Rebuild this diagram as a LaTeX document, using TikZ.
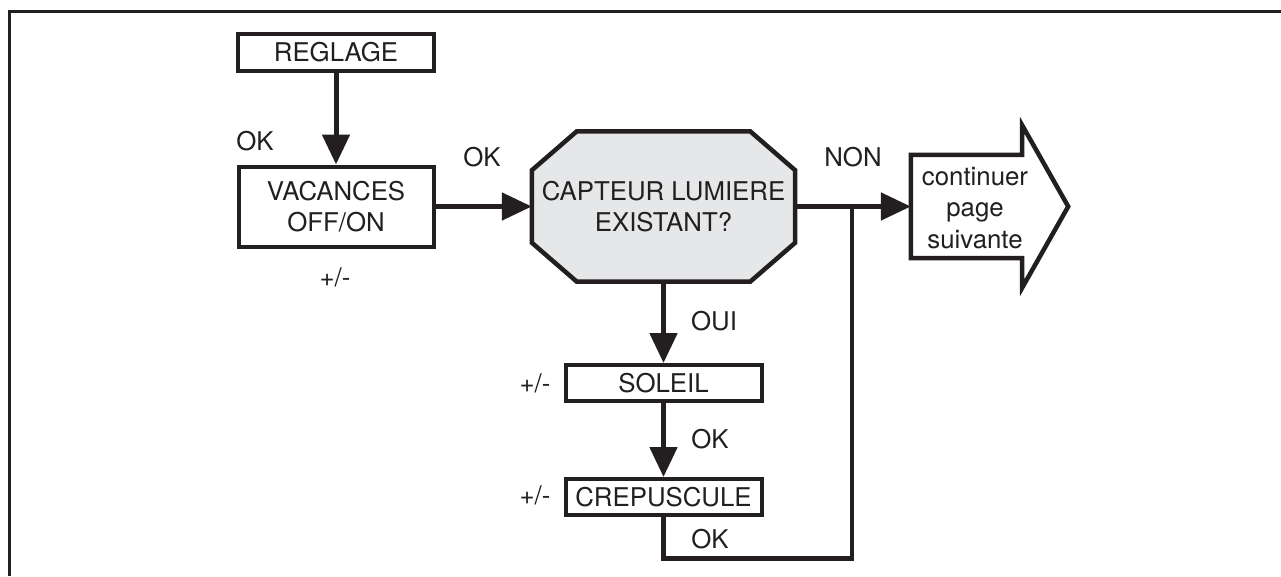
\documentclass[tikz,border=0pt]{standalone}
\usepackage{fontspec}
\setmainfont{TeX Gyre Heros}
\usetikzlibrary{arrows.meta,backgrounds,calc}
\definecolor{ink}{HTML}{231F20}
\definecolor{octfill}{HTML}{E6E7E8}
\begin{document}
\begin{tikzpicture}[x=1pt,y=-1pt,
  every node/.style={font=\fontsize{25.8}{31.5}\selectfont, text=ink},
  box/.style={draw=ink, line width=4pt, minimum width=196pt, inner sep=0pt, align=center},
  lbl/.style={inner sep=0pt},
  conn/.style={draw=ink, line width=5pt, -{Triangle[length=30pt,width=27pt]}},
  plain/.style={draw=ink, line width=4.5pt},
  shapeline/.style={draw=ink, line width=4.5pt, line join=miter},
]
\useasboundingbox (0,0) rectangle (1281,576);
\draw[ink, line width=3pt] (9.5,576) -- (9.5,11.5) -- (1281,11.5);

\node[box, minimum height=37pt] (reg) at (336,52.5) {REGLAGE};
\node[box, minimum width=195pt, minimum height=80pt] (vac) at (336,206.5) {VACANCES\\OFF/ON};
\node[minimum width=263pt, minimum height=150pt, inner sep=0pt, align=center] (cap) at (663.5,206.5) {CAPTEUR LUMIERE\\EXISTANT?};
\node[minimum width=111pt, minimum height=103pt, inner sep=0pt] (cont) at (966.5,206.5) {};
\node[inner sep=0pt, align=center] (conttxt) at (975,208) {continuer\\page\\suivante};
\node[box, minimum height=36pt] (sol) at (663.5,383) {SOLEIL};
\node[box, minimum height=36pt] (crep) at (663.5,497) {CREPUSCULE};
\coordinate (j) at (852,206.5);

\begin{scope}[on background layer]
\draw[shapeline, fill=octfill]
  ([xshift=45pt]cap.north west) -- ([xshift=-45pt]cap.north east)
  -- ([yshift=-39pt]cap.north east) -- ([yshift=39pt]cap.south east)
  -- ([xshift=-45pt]cap.south east) -- ([xshift=45pt]cap.south west)
  -- ([yshift=39pt]cap.south west) -- ([yshift=-39pt]cap.north west) -- cycle;
\draw[shapeline, fill=white]
  (cont.north west) -- (cont.north east) -- ([yshift=29.5pt]cont.north east)
  -- ([xshift=46pt]cont.east) -- ([yshift=-29.5pt]cont.south east)
  -- (cont.south east) -- (cont.south west) -- cycle;
\end{scope}

\draw[conn] (reg) -- (vac);
\draw[conn] (vac.east) -- (cap.west);
\draw[conn] (cap.east) -- (cont.west);
\draw[conn] (cap.south) -- (sol.north);
\draw[conn] (sol) -- (crep);
\draw[plain] (crep.south) -- ++(0,41.5) -| (j);

\node[lbl] (ok1) at (255,141) {OK};
\node[lbl] (ok2) at (482,157) {OK};
\node[lbl] (pm1) at (335,277) {+/-};
\node[lbl] (non) at (853,157) {NON};
\node[lbl] (oui) at (714,321) {OUI};
\node[lbl] (pm2) at (535,383) {+/-};
\node[lbl] (ok3) at (710,439) {OK};
\node[lbl] (pm3) at (535,495) {+/-};
\node[lbl] (ok4) at (710,539) {OK};
\end{tikzpicture}
\end{document}
